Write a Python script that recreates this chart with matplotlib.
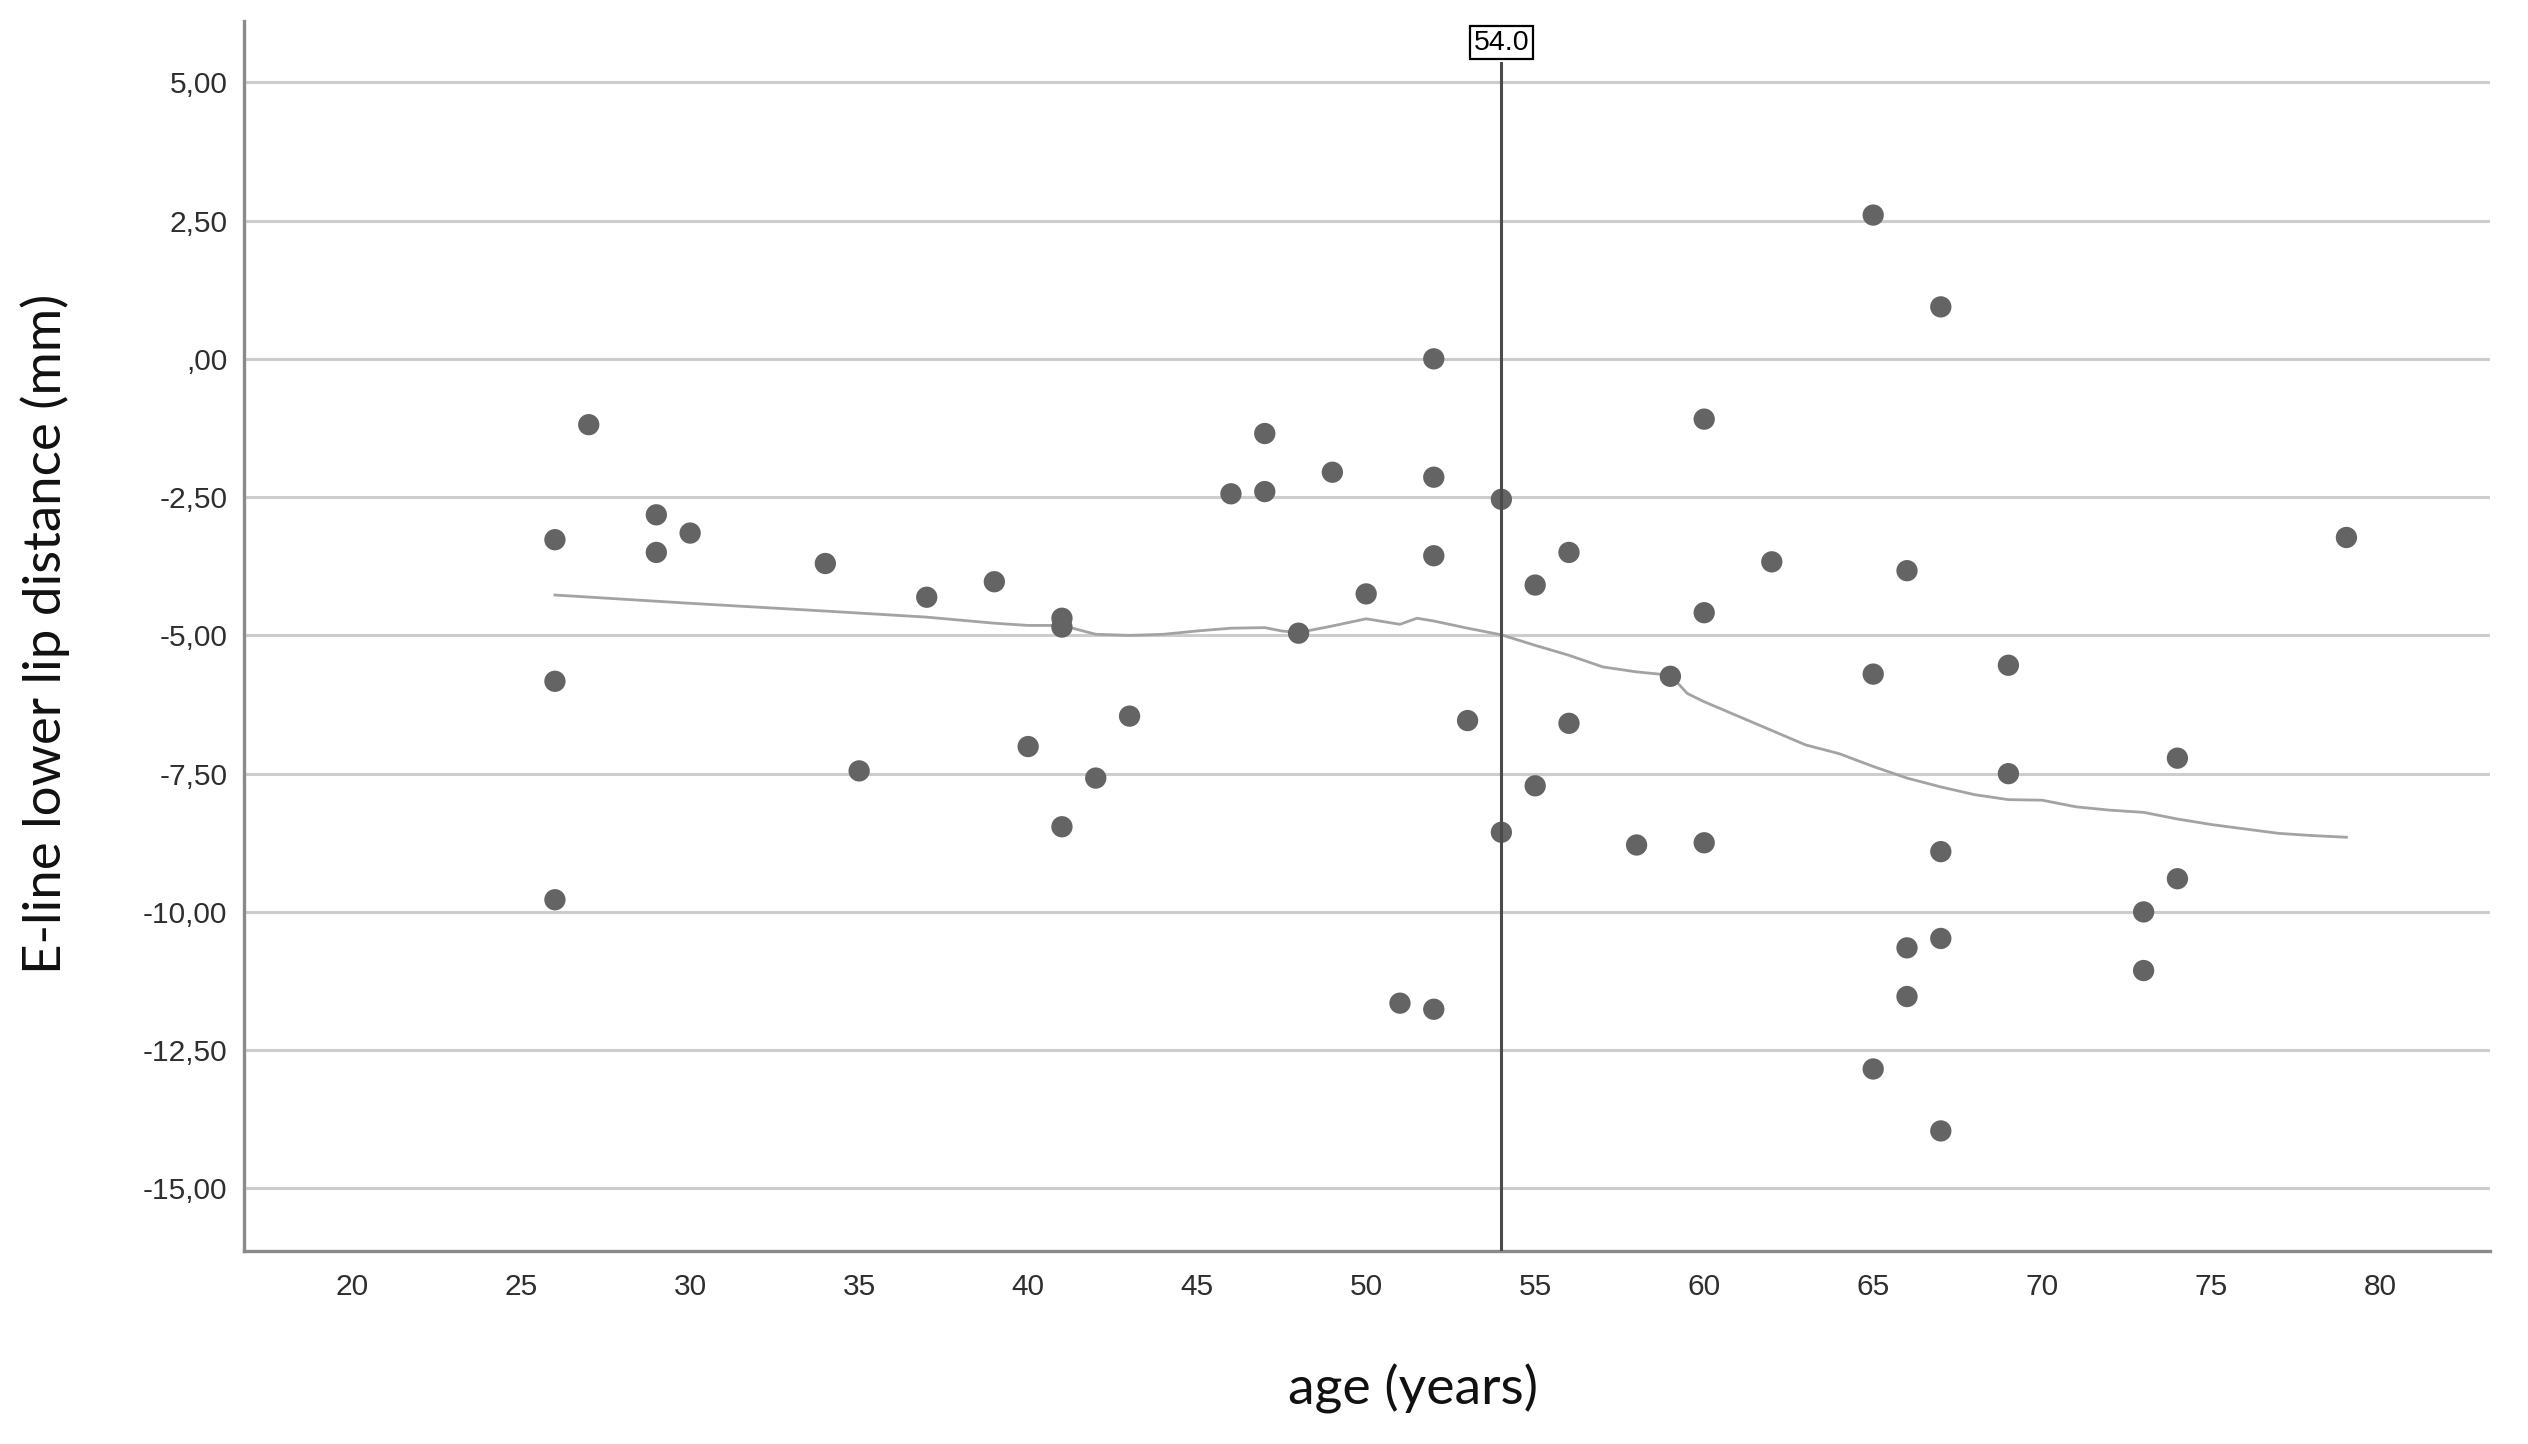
import matplotlib
matplotlib.use("Agg")
import matplotlib.pyplot as plt

# %% data
age = [26, 26, 26, 27, 29, 29, 30, 34, 35, 37, 39, 40, 41, 41, 41, 42, 43,
       46, 47, 47, 48, 49, 50, 51, 52, 52, 52, 52, 53, 54, 54, 55, 55, 56, 56,
       58, 59, 60, 60, 60, 62, 65, 65, 65, 66, 66, 66, 67, 67, 67, 67, 69, 69,
       73, 73, 74, 74, 79]
eline = [-3.27, -5.83, -9.78, -1.19, -2.82, -3.50, -3.15, -3.70, -7.45,
         -4.31, -4.03, -7.01, -4.69, -4.85, -8.46, -7.58, -6.46,
         -2.44, -2.40, -1.35, -4.96, -2.05, -4.25, -11.65,
         0.00, -2.14, -3.56, -11.76, -6.54, -2.54, -8.56, -4.09, -7.72,
         -3.50, -6.59, -8.79, -5.74, -1.09, -4.59, -8.75, -3.67,
         2.60, -5.70, -12.84, -3.83, -10.65, -11.53,
         0.94, -8.91, -10.48, -13.96, -5.54, -7.50,
         -10.00, -11.06, -7.22, -9.40, -3.23]

fit_age = [26, 30, 34, 37, 39, 40, 41, 42, 43, 44, 45, 46, 47, 47.5, 48, 49,
           50, 51, 51.5, 52, 53, 54, 55, 56, 57, 58, 59, 59.5, 60, 61, 62, 63,
           64, 65, 66, 67, 68, 69, 70, 71, 72, 73, 74, 75, 76, 77, 78, 79]
fit_val = [-4.27, -4.42, -4.56, -4.67, -4.78, -4.82, -4.82, -4.98, -5.00,
           -4.98, -4.92, -4.87, -4.86, -4.92, -4.95, -4.83, -4.70, -4.80,
           -4.69, -4.74, -4.87, -4.99, -5.18, -5.36, -5.57, -5.66, -5.72,
           -6.05, -6.20, -6.46, -6.72, -6.98, -7.14, -7.37, -7.58, -7.74,
           -7.88, -7.97, -7.98, -8.10, -8.16, -8.20, -8.32, -8.42, -8.50,
           -8.58, -8.62, -8.65]

ref_age = 54.0
xticks = [20, 25, 30, 35, 40, 45, 50, 55, 60, 65, 70, 75, 80]
yticks = [5, 2.5, 0, -2.5, -5, -7.5, -10, -12.5, -15]
ytick_labels = ["5,00", "2,50", ",00", "-2,50", "-5,00", "-7,50", "-10,00",
                "-12,50", "-15,00"]

# %%
fig = plt.figure(figsize=(25.28, 14.44), dpi=100)
ax = fig.add_axes([0.0965, 0.1337, 0.8885, 0.8518])

ax.set_xlim(16.8, 83.25)
ax.set_ylim(-16.13, 6.11)

ax.set_yticks(yticks)
ax.set_yticklabels(ytick_labels)
ax.set_xticks(xticks)
ax.grid(axis='y', color='#cdcdcd', lw=2.2)
ax.set_axisbelow(True)

for side in ['top', 'right']:
    ax.spines[side].set_visible(False)
for side in ['left', 'bottom']:
    ax.spines[side].set_color('#8a8a8a')
    ax.spines[side].set_linewidth(2.4)

ax.tick_params(axis='both', length=0, labelsize=21.5, labelcolor='#2e2e2e')
ax.tick_params(axis='y', pad=12)
ax.tick_params(axis='x', pad=16)
for lab in ax.get_xticklabels() + ax.get_yticklabels():
    lab.set_family('Liberation Sans')

ax.plot(fit_age, fit_val, color='#a3a3a3', lw=2.0, zorder=3)
ax.scatter(age, eline, s=235, color='#646464', edgecolor='none', zorder=4)

# reference line with its label box
ax.plot([ref_age, ref_age], [ax.get_ylim()[0], 5.35], color='#4a4a4a', lw=2.2,
        zorder=5)
ax.text(ref_age, 5.72, "54.0", ha='center', va='center', fontsize=20.5,
        family='Liberation Sans', color='black', zorder=6,
        bbox=dict(boxstyle='square,pad=0.14', fc='white', ec='black', lw=1.6))

fig.text(0.018, 0.561, "E-line lower lip distance (mm)", rotation=90,
         ha='center', va='center', fontsize=38, family='Lato', color='#111111')
fig.text(0.559, 0.038, "age (years)", ha='center', va='center', fontsize=38.5,
         family='Lato', color='#111111')

fig.savefig('out.png', dpi=100)
